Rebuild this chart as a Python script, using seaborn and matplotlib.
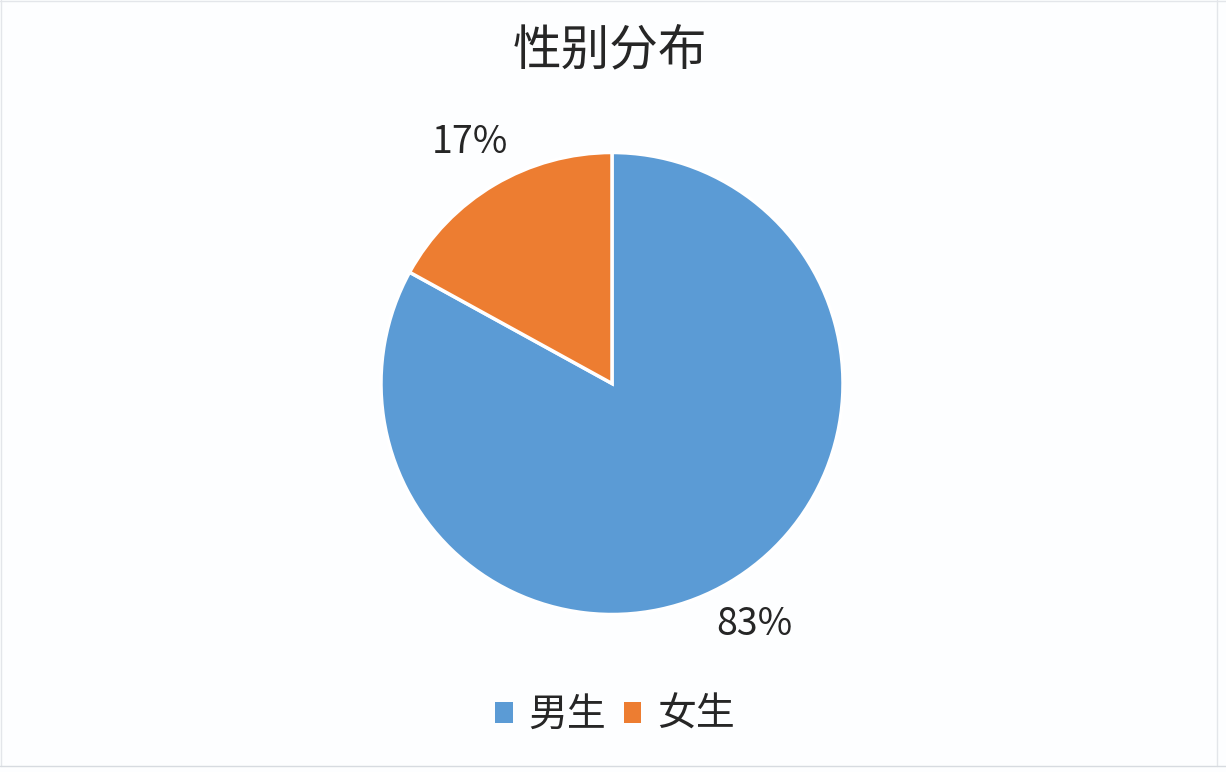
import matplotlib
matplotlib.use("Agg")
import matplotlib.pyplot as plt
import seaborn as sns
from matplotlib.patches import Patch

# data
labels = ['男生', '女生']
shares = [83, 17]
colors = ['#5B9BD5', '#ED7D31']
title = '性别分布'

sns.set_theme(style='white')
plt.rcParams['font.family'] = ['Noto Sans CJK SC', 'DejaVu Sans']

fig = plt.figure(figsize=(12.26, 7.72), dpi=100)
fig.patch.set_facecolor('#FDFEFF')

# pie box: centre ~ (612, 383) px, radius ~231 px
W, H = 1226, 772
r = 231
ax = fig.add_axes([(612 - r) / W, (H - 383.5 - r) / H, 2 * r / W, 2 * r / H])
ax.set_facecolor('none')

wedges, texts, autotexts = ax.pie(
    shares, colors=colors, startangle=90, counterclock=False,
    autopct='%.0f%%', pctdistance=1.21,
    wedgeprops=dict(edgecolor='white', linewidth=2.5),
    textprops=dict(fontsize=27, color='#262626'))
ax.set_xlim(-1, 1)
ax.set_ylim(-1, 1)
ax.axis('off')

fig.text(610 / W, 1 - 51 / H, title, ha='center', va='center',
         fontsize=35, color='#262626')

handles = [Patch(facecolor=c, edgecolor='none') for c in colors]
fig.legend(handles, labels, loc='center', bbox_to_anchor=(615 / W, 1 - 715 / H),
           ncol=2, frameon=False, fontsize=28, handlelength=0.45, handleheight=0.45,
           handletextpad=0.4, columnspacing=0.45, labelcolor='#262626')

# faint sheet border like the spreadsheet behind
for x in [1 / W, 1 - 9 / W]:
    fig.add_artist(plt.Line2D([x, x], [6 / H, 1], color='#E3E6EA', lw=1))
fig.add_artist(plt.Line2D([0, 1], [6 / H, 6 / H], color='#D7DBE0', lw=1))
fig.add_artist(plt.Line2D([0, 1], [1 - 1 / H, 1 - 1 / H], color='#E3E6EA', lw=1))

fig.savefig('out.png', dpi=100, facecolor=fig.get_facecolor())
